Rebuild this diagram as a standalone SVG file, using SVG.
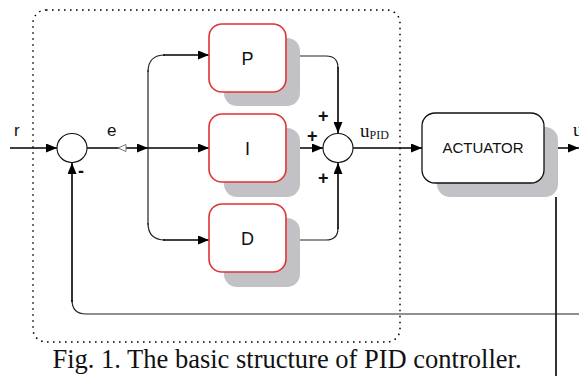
<svg xmlns="http://www.w3.org/2000/svg" width="579" height="376" viewBox="0 0 579 376">
  <defs>
    <marker id="arr" markerWidth="11" markerHeight="9" refX="11" refY="4.5" orient="auto" markerUnits="userSpaceOnUse">
      <path d="M0,0 L11,4.5 L0,9 Z" fill="#000"/>
    </marker>
  </defs>
  <style>
    .shadow { fill: #c2c2c6; }
    .blk { fill: #fff; stroke: #e03232; stroke-width: 1.6; }
    .act { fill: #fff; stroke: #111; stroke-width: 1.3; }
    .sum { fill: #fff; stroke: #111; stroke-width: 1.1; }
    .ln { fill: none; stroke: #000; stroke-width: 1.6; }
    .thin { fill: none; stroke: #222; stroke-width: 1.2; }
    .lbl { font-family: "Liberation Sans", Arial, sans-serif; fill: #111; }
    .sign { font-family: "Liberation Sans", Arial, sans-serif; fill: #111; font-size: 18px; font-weight: bold; }
    .ser { font-family: "Liberation Serif", "Times New Roman", serif; fill: #111; }
  </style>

  <rect width="579" height="376" fill="#fff"/>

  <!-- controller boundary -->
  <rect x="33" y="10" width="367" height="332" rx="13" fill="none" stroke="#000" stroke-width="1.5" stroke-dasharray="1.6 4.4"/>

  <!-- connectors -->
  <g id="connectors">
    <line class="ln" x1="10" y1="148" x2="57" y2="148" marker-end="url(#arr)"/>
    <line class="ln" x1="87" y1="148" x2="148" y2="148" marker-end="url(#arr)"/>
    <path class="thin" d="M148,70 L148,225" stroke="#666"/>
    <path class="thin" d="M148,72 Q148,55 165,55"/>
    <path class="thin" d="M148,223 Q148,240 165,240"/>
    <line class="ln" x1="163" y1="55" x2="209" y2="55" marker-end="url(#arr)"/>
    <line class="ln" x1="163" y1="240" x2="209" y2="240" marker-end="url(#arr)"/>
    <line class="ln" x1="148" y1="148" x2="209" y2="148" marker-end="url(#arr)"/>
    <polygon points="118,148 126,144.5 126,151.5" fill="#fff" stroke="#777" stroke-width="1"/>
    <path class="thin" d="M286,56 L326,56 Q338,56 338,68"/>
    <line class="ln" x1="338" y1="67" x2="338" y2="133" marker-end="url(#arr)"/>
    <path class="thin" d="M286,240 L326,240 Q338,240 338,228"/>
    <line class="ln" x1="338" y1="229" x2="338" y2="163" marker-end="url(#arr)"/>
    <line class="ln" x1="286" y1="148" x2="323" y2="148" marker-end="url(#arr)"/>
    <line class="ln" x1="353" y1="148" x2="422" y2="148" marker-end="url(#arr)"/>
    <line class="ln" x1="544" y1="148" x2="579" y2="148" marker-end="url(#arr)"/>
    <line class="ln" x1="556" y1="197" x2="556" y2="376"/>
    <path class="thin" d="M579,314 L86,314 Q72,314 72,300"/>
    <line class="ln" x1="72" y1="302" x2="72" y2="163" marker-end="url(#arr)"/>
  </g>

  <!-- error summing junction -->
  <g id="sum-error">
    <ellipse class="sum" cx="72" cy="148" rx="15" ry="14.5"/>
    <text class="sign" x="78" y="177" font-size="15">-</text>
  </g>

  <!-- output summing junction -->
  <g id="sum-pid">
    <ellipse class="sum" cx="338" cy="148" rx="15" ry="14.5"/>
    <text class="sign" x="318" y="122">+</text>
    <text class="sign" x="307" y="142">+</text>
    <text class="sign" x="318" y="184">+</text>
  </g>

  <g id="block-p">
    <rect class="shadow" x="224" y="38" width="76" height="68" rx="13"/>
    <rect class="blk" x="209" y="24" width="77" height="68" rx="13"/>
    <text class="lbl" x="247.5" y="65" font-size="18" text-anchor="middle">P</text>
  </g>

  <g id="block-i">
    <rect class="shadow" x="224" y="128" width="76" height="69" rx="13"/>
    <rect class="blk" x="209" y="114" width="77" height="68" rx="13"/>
    <text class="lbl" x="247.5" y="155" font-size="18" text-anchor="middle">I</text>
  </g>

  <g id="block-d">
    <rect class="shadow" x="224" y="218" width="76" height="69" rx="13"/>
    <rect class="blk" x="209" y="204" width="77" height="68" rx="13"/>
    <text class="lbl" x="247.5" y="245" font-size="18" text-anchor="middle">D</text>
  </g>

  <g id="actuator">
    <rect class="shadow" x="437" y="127" width="121" height="70" rx="13"/>
    <rect class="act" x="422" y="113" width="122" height="70" rx="13"/>
    <text class="lbl" x="483" y="153" font-size="15" text-anchor="middle">ACTUATOR</text>
  </g>

  <!-- signal labels -->
  <g id="labels">
    <text class="lbl" x="14" y="136" font-size="17">r</text>
    <text class="lbl" x="107" y="136" font-size="17">e</text>
    <text class="ser" x="360" y="137" font-size="19">u<tspan font-size="12" dy="2">PID</tspan></text>
    <text class="ser" x="573" y="136" font-size="19">u</text>
  </g>

  <text class="ser" x="287" y="368" font-size="26.5" text-anchor="middle">Fig. 1. The basic structure of PID controller.</text>
</svg>
